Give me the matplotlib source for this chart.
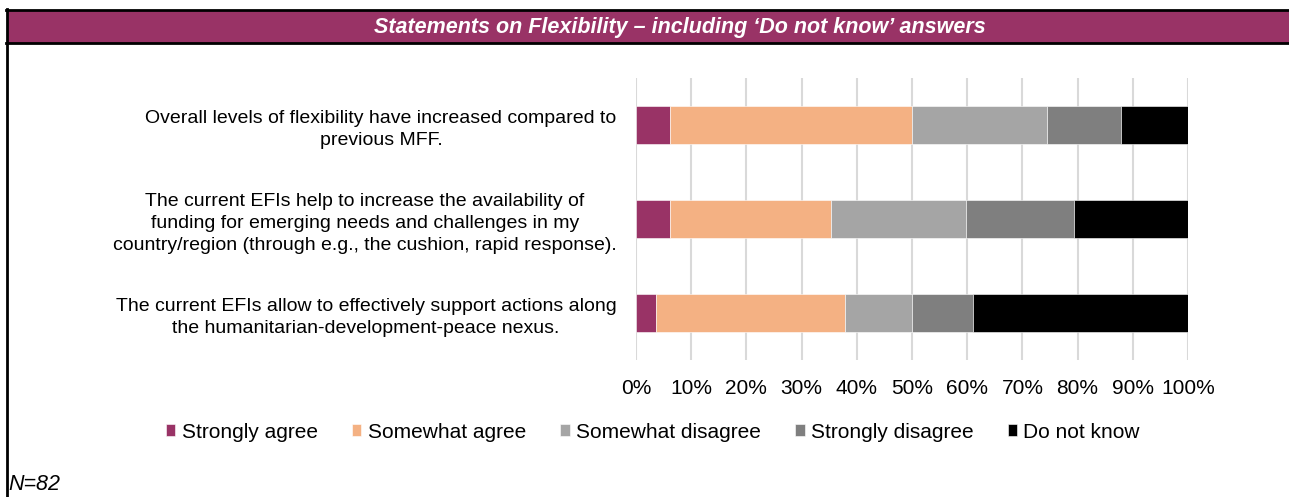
"""Stacked bar chart: statements on flexibility, including 'Do not know' answers"""

import numpy as np
import matplotlib.pyplot as plt
from matplotlib.patches import Rectangle
from matplotlib.lines import Line2D

plt.rcParams['font.family'] = ['Liberation Sans', 'DejaVu Sans']

#%% data (number of respondents, N=82)
n_resp = 82
statements = ['Overall levels of flexibility have increased compared to\nprevious MFF.',
              'The current EFIs help to increase the availability of\nfunding for emerging needs and challenges in my\ncountry/region (through e.g., the cushion, rapid response).',
              'The current EFIs allow to effectively support actions along\nthe humanitarian-development-peace nexus.']
answers = ['Strongly agree', 'Somewhat agree', 'Somewhat disagree', 'Strongly disagree', 'Do not know']
strongly_agree = [5, 5, 3]
somewhat_agree = [36, 24, 28]
somewhat_disagree = [20, 20, 10]
strongly_disagree = [11, 16, 9]
do_not_know = [10, 17, 32]
colors = ['#993366', '#F4B183', '#A5A5A5', '#7F7F7F', '#000000']

counts = np.array([strongly_agree, somewhat_agree, somewhat_disagree, strongly_disagree, do_not_know])
pct = counts / n_resp * 100

#%% figure
W, H = 1289, 497
fig = plt.figure(figsize=(W / 100, H / 100), dpi=100)

# header band with black frame
fig.patches.append(Rectangle((7 / W, 1 - 43 / H), 1, 33 / H, transform=fig.transFigure,
                             facecolor='#993366', edgecolor='none'))
for yy in [10, 43]:
    fig.lines.append(Line2D([6 / W, 1], [1 - yy / H] * 2, transform=fig.transFigure,
                            color='k', lw=2))
fig.lines.append(Line2D([7 / W, 7 / W], [0, 1 - 9 / H], transform=fig.transFigure, color='k', lw=2))
fig.text(680 / W, 1 - 27 / H, 'Statements on Flexibility \u2013 including \u2018Do not know\u2019 answers',
         ha='center', va='center', color='white', fontsize=15.5, fontweight='bold', style='italic')

ax = fig.add_axes([636 / W, 1 - 360 / H, 552 / W, 282 / H])
y = np.arange(len(statements))[::-1]
left = np.zeros(len(statements))
for i, ans in enumerate(answers):
    ax.barh(y, pct[i], left=left, height=0.4, color=colors[i], label=ans,
            edgecolor='white', linewidth=0.4, zorder=3)
    left += pct[i]

ax.set_xlim(0, 100)
ax.set_ylim(-0.5, 2.5)
ax.set_xticks(np.arange(0, 101, 10))
ax.set_xticklabels(['{}%'.format(v) for v in range(0, 101, 10)], fontsize=15)
ax.set_yticks(y)
ax.set_yticklabels(statements, fontsize=14, multialignment='center', linespacing=1.4)
ax.tick_params(length=0, pad=14)
ax.tick_params(axis='x', pad=14)
ax.grid(axis='x', color='#d9d9d9', lw=1.5, zorder=0)
for s in ax.spines.values():
    s.set_visible(False)

fig.legend(loc='center', bbox_to_anchor=(653 / W, 1 - 432 / H), ncol=5, frameon=False,
           fontsize=15, handlelength=0.45, handleheight=0.45, handletextpad=0.3,
           columnspacing=1.65)

fig.text(8 / W, 1 - 484 / H, 'N=82', fontsize=15.5, style='italic', va='center', ha='left')

plt.savefig('out.png', dpi=100)
